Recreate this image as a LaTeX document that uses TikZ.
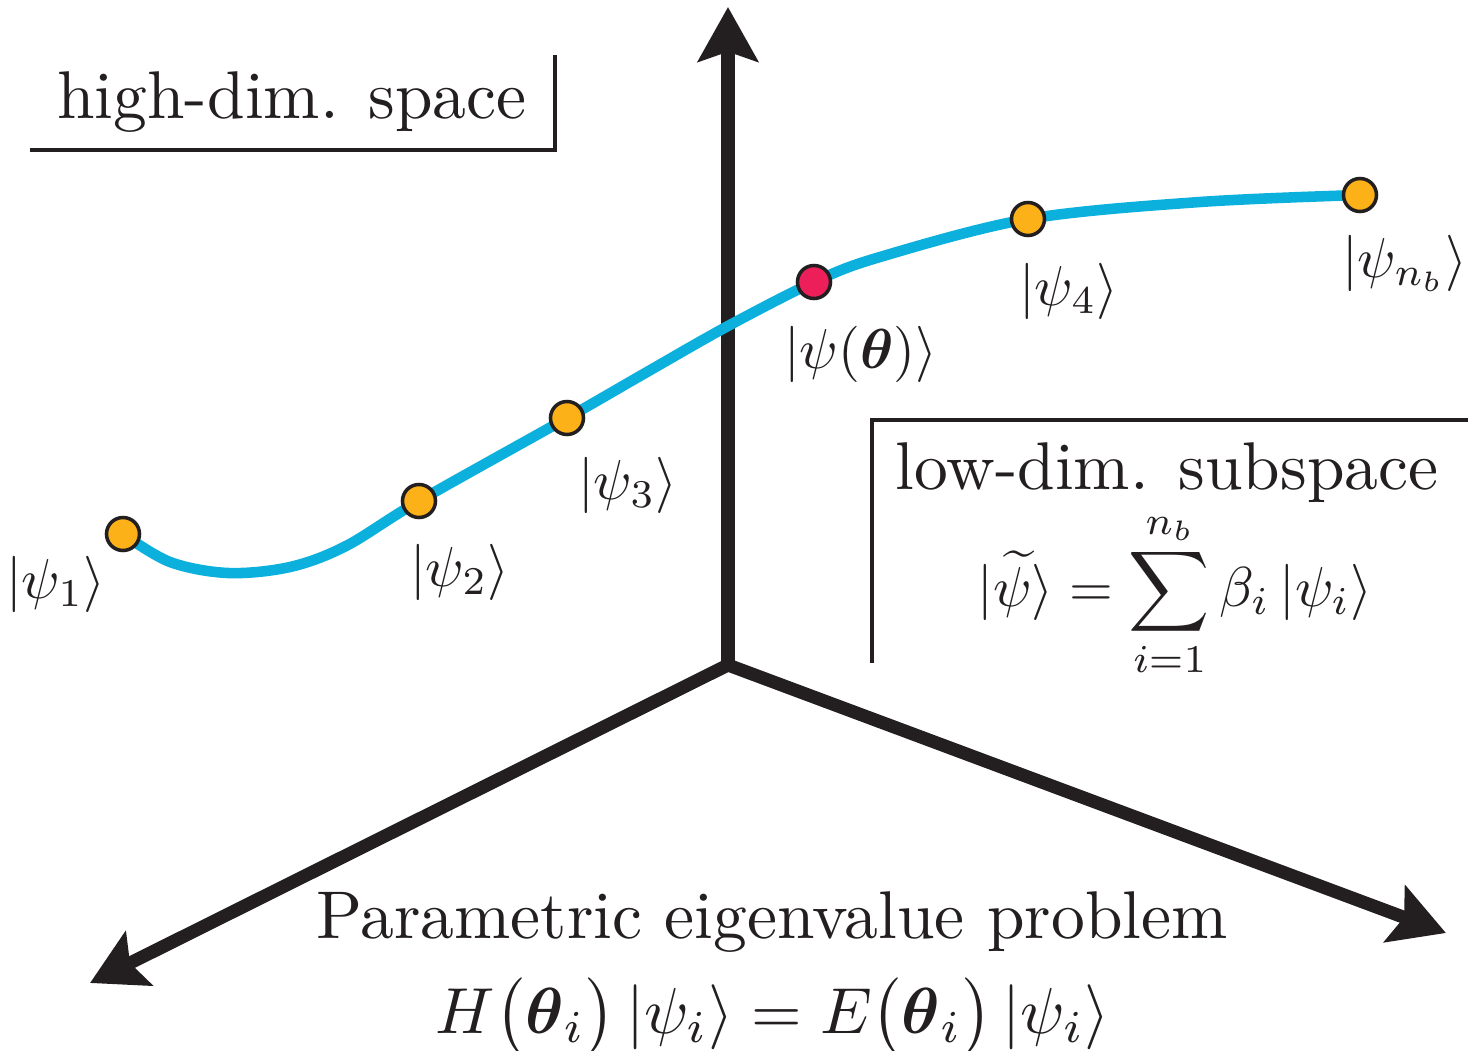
\documentclass[tikz,border=0pt]{standalone}
\usepackage{amsmath,amssymb}
\usetikzlibrary{arrows.meta}
\definecolor{curvecol}{HTML}{0BB0DC}
\definecolor{dotorange}{HTML}{FBB117}
\definecolor{dotred}{HTML}{EC1F5B}
\definecolor{inkblack}{HTML}{231F20}
\begin{document}
\begin{tikzpicture}[x=0.01cm,y=-0.01cm,
  axis/.style={draw=inkblack, line width=3.7pt, line cap=round,
    -{Stealth[length=15.5pt,width=17pt,inset=2.8pt]}},
  frameline/.style={draw=inkblack, line width=1.1pt},
  curvestyle/.style={draw=curvecol, line width=3pt, line cap=round},
  dotstyle/.style={circle, draw=inkblack, line width=1pt, inner sep=0pt, minimum size=0.33cm, fill=dotorange},
  textbase/.style={inner sep=0pt, anchor=base, text=inkblack},
  lbl/.style={textbase, scale=1.92},
  ketlbl/.style={textbase, scale=1.6}]
\useasboundingbox (0,0) rectangle (1468,1051);

% axes
\coordinate (O) at (728,665);
\coordinate (Ytip) at (728,7);
\coordinate (Ltip) at (90,983);
\coordinate (Rtip) at (1446,933);
\draw[axis] (O) -- (Ytip);
\draw[axis] (O) -- (Ltip);
\draw[axis] (O) -- (Rtip);

% frames
\coordinate (hdA) at (30,150);
\coordinate (hdB) at (555,150);
\coordinate (hdC) at (555,55);
\draw[frameline] (hdA) -- (hdB) -- (hdC);
\coordinate (ldA) at (1468,420);
\coordinate (ldB) at (872,420);
\coordinate (ldC) at (872,663);
\draw[frameline] (ldA) -- (ldB) -- (ldC);

% curve
\coordinate (c1) at (123,534);
\coordinate (c2) at (419,501);
\coordinate (c3) at (567,418);
\coordinate (cr) at (814,282);
\coordinate (c4) at (1028,219);
\coordinate (cn) at (1360,195);
\draw[curvestyle] plot[smooth, tension=0.55] coordinates {(c1) (170,562) (228,573) (290,567) (346,546) (c2) (c3) (647,372) (728,326) (cr) (880,257) (c4) (1200,202) (cn)};

% dots
\node[dotstyle] (p1) at (c1) {};
\node[dotstyle] (p2) at (c2) {};
\node[dotstyle] (p3) at (c3) {};
\node[dotstyle, fill=dotred] (pr) at (cr) {};
\node[dotstyle] (p4) at (c4) {};
\node[dotstyle] (pn) at (cn) {};

% labels
\node[ketlbl] (l1) at (56,598) {$\lvert\psi_1\rangle$};
\node[ketlbl] (l2) at (460,586) {$\lvert\psi_2\rangle$};
\node[ketlbl] (l3) at (628,499) {$\lvert\psi_3\rangle$};
\node[ketlbl] (lr) at (861,368) {$\lvert\psi(\boldsymbol{\theta})\rangle$};
\node[ketlbl] (l4) at (1069,305) {$\lvert\psi_4\rangle$};
\node[ketlbl] (ln) at (1405,277) {$\lvert\psi_{n_b}\rangle$};

\node[lbl] (hd) at (292,118) {high-dim. space};
\node[lbl] (ld) at (1167,489) {low-dim. subspace};
\node[ketlbl] (ldf) at (1175,606) {$\displaystyle \lvert\widetilde{\psi}\rangle = \sum_{i=1}^{n_b}\beta_i\,\lvert\psi_i\rangle$};

\node[lbl] (pe) at (772,938) {Parametric eigenvalue problem};
\node[textbase, scale=1.85] (pef) at (773,1033) {$H\bigl(\boldsymbol{\theta}_i\bigr)\,\lvert\psi_i\rangle = E\bigl(\boldsymbol{\theta}_i\bigr)\,\lvert\psi_i\rangle$};
\end{tikzpicture}
\end{document}
